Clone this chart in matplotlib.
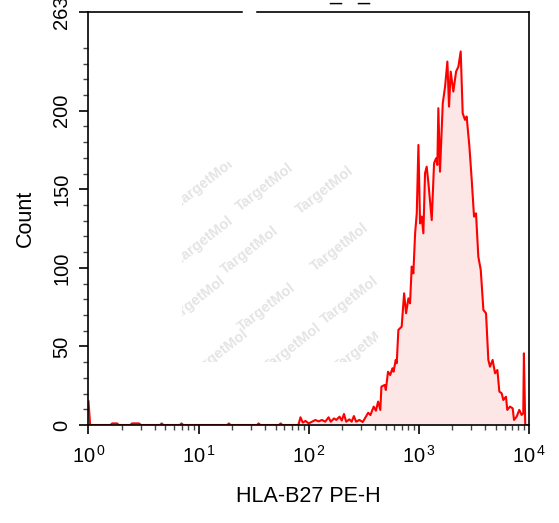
import numpy as np
import matplotlib
matplotlib.use("Agg")
import matplotlib.pyplot as plt
from matplotlib.ticker import FixedLocator, NullFormatter

plt.rcParams['font.family'] = ['Liberation Sans', 'DejaVu Sans']
plt.rcParams['mathtext.fontset'] = 'custom'
plt.rcParams['mathtext.rm'] = 'Liberation Sans'
plt.rcParams['mathtext.it'] = 'Liberation Sans'

# HISTOGRAM OUTLINE (log10 of PE-H, count)
fl_log = [0.000, 0.015, 0.200, 0.215, 0.260, 0.275, 0.380, 0.395, 0.460, 0.475,
          0.650, 0.665, 0.680, 0.830, 0.845, 0.860, 1.260, 1.275, 1.290,
          1.530, 1.545, 1.560, 1.730, 1.745, 1.760,
          1.906, 1.925, 1.946, 1.970, 2.000, 2.030, 2.060, 2.090, 2.120, 2.150,
          2.180, 2.200, 2.230, 2.250, 2.280, 2.300, 2.320, 2.340, 2.370, 2.390,
          2.410, 2.430, 2.460, 2.490, 2.510, 2.540, 2.560, 2.590, 2.610, 2.630,
          2.650, 2.660, 2.690, 2.700, 2.720, 2.740, 2.760, 2.770, 2.790,
          2.799, 2.814, 2.844, 2.866, 2.884, 2.905, 2.920, 2.935, 2.950, 2.966,
          2.981, 2.996, 3.011, 3.026, 3.041, 3.056, 3.071, 3.087, 3.117, 3.138,
          3.156, 3.168, 3.177, 3.192, 3.217, 3.238, 3.259, 3.274, 3.289, 3.313,
          3.338, 3.359, 3.380, 3.398, 3.419, 3.434, 3.459, 3.480, 3.501, 3.519,
          3.540, 3.562, 3.586, 3.610, 3.631, 3.646, 3.670, 3.692, 3.713, 3.731,
          3.752, 3.767, 3.791, 3.803, 3.828, 3.852, 3.864, 3.888, 3.912, 3.933,
          3.948, 3.954, 3.966, 4.000]
counts = [15, 0, 0, 1, 1, 0, 0, 1, 1, 0,
          0, 1, 0, 0, 1, 0, 0, 1, 0,
          0, 1, 0, 0, 1, 0,
          0, 4.9, 1.5, 2.6, 1.0, 2.1, 3.2, 2.3, 3.2, 2.1,
          4.9, 2.1, 4.2, 3.2, 5.3, 2.8, 7.0, 2.1, 3.6, 2.1,
          5.7, 2.1, 3.2, 1.9, 4.2, 7.8, 6.3, 11.7, 9.1, 14.9,
          9.6, 24.4, 25.5, 22.3, 33.9, 31.8, 36.1, 33.9, 41.4,
          39.3, 60.5, 62.6, 83.8, 71.1, 80.6, 77.4, 100.8, 96.5, 122,
          134.7, 178.2, 128.3, 132.6, 122, 160.2, 164.4, 153.8, 130.4, 166.5,
          169.7, 165.5, 201.6, 161.2, 204.7, 215.3, 231.3, 202.6, 224.9, 212.2,
          224.9, 228.1, 237.7, 198.4, 194.2, 196.3, 177.2, 156, 132.6, 134.7,
          107.1, 98.7, 73.2, 71.1, 41.4, 37.1, 41.4, 32.9, 35.0, 21.2,
          20.2, 15.9, 18.0, 9.6, 11.7, 10.6, 3.2, 5.3, 9.6, 6.4,
          7.4, 45.6, 0, 0]

x_ticks = [1, 10, 100, 1000, 10000]
x_ticklabels = [r'$\mathregular{10^{\,%d}}$' % i for i in range(5)]
y_ticks = [0, 50, 100, 150, 200, 263]
y_max = 263

fig = plt.figure(figsize=(5.59, 5.23), dpi=100)
ax = fig.add_axes([0.1583, 0.1874, 0.788, 0.7902])

# faint watermark, clipped to a box
wm_pos = [(205, 183), (265, 187), (325, 190), (205, 240), (250, 250), (340, 247),
          (197, 300), (267, 307), (350, 300), (220, 353), (293, 347), (363, 347)]
clip = plt.Rectangle((182 / 559, 1 - 362 / 523), 196 / 559, 200 / 523,
                     transform=fig.transFigure, visible=False)
fig.add_artist(clip)
for px, py in wm_pos:
    t = fig.text(px / 559, 1 - py / 523, 'TargetMol', color='#e4e4e4', fontsize=10.5,
                 fontweight='bold', rotation=38, ha='center', va='center', zorder=0)
    t.set_clip_path(clip)

x = 10 ** np.array(fl_log)
y = np.array(counts)
ax.fill_between(x, 0, y, color='#fde6e6', lw=0, zorder=1)
ax.plot(x, y, color='#ff0000', lw=1.5, zorder=2)

ax.set_xscale('log')
ax.set_xlim(1, 10000)
ax.set_ylim(0, y_max)
ax.patch.set_alpha(0)

ax.set_xticks(x_ticks)
ax.set_xticklabels(x_ticklabels, fontsize=14.5)
minor_x = [m * 10 ** d for d in range(4) for m in range(2, 10)]
ax.xaxis.set_minor_locator(FixedLocator(minor_x))
ax.xaxis.set_minor_formatter(NullFormatter())

ax.set_yticks(y_ticks)
ax.set_yticklabels([str(v) for v in y_ticks], fontsize=14.5, rotation=90, va='center')
ax.yaxis.set_minor_locator(FixedLocator([v for v in range(10, 260, 10) if v % 50]))

ax.tick_params(axis='both', which='major', direction='out', length=6.5, width=1.2, color='black')
ax.tick_params(axis='both', which='minor', direction='out', length=3.5, width=1.0, color='#444444')
ax.tick_params(axis='x', which='major', pad=8)
ax.tick_params(axis='y', which='major', pad=6)
ax.tick_params(top=False, right=False, which='both')

for s in ax.spines.values():
    s.set_linewidth(1.2)

ax.set_xlabel('HLA-B27 PE-H', fontsize=15.5, labelpad=14)
ax.set_ylabel('Count', fontsize=15.5, labelpad=12)

# gap in the top frame and the cut-off title
fig.add_artist(plt.Line2D([244 / 559, 254 / 559], [1 - 12 / 523] * 2, color='white',
                          lw=2.5, transform=fig.transFigure, zorder=5))
fig.text(335 / 559, 1.0, '_', fontsize=15.5, ha='center', va='baseline')
fig.text(363 / 559, 1.0, '_', fontsize=15.5, ha='center', va='baseline')

fig.savefig('out.png', dpi=100)
